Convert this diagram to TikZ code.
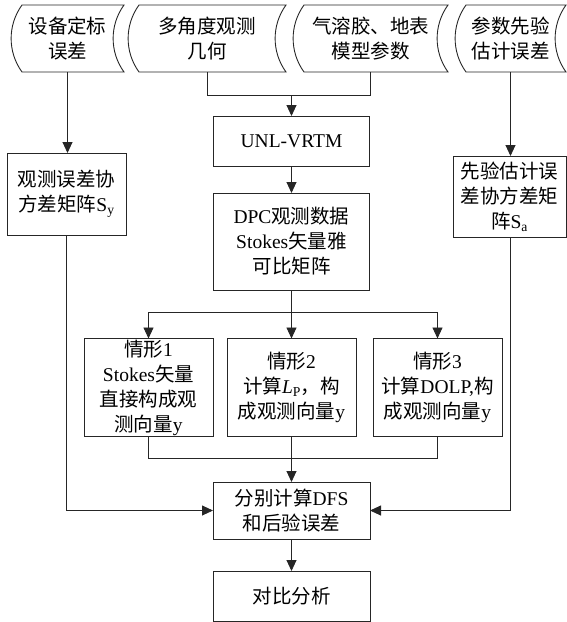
\documentclass[tikz,border=0pt]{standalone}
\usepackage{fontspec}
\setmainfont{Liberation Serif}
\newfontfamily\cjk{Noto Sans CJK SC}
\newcommand\zh[1]{{\cjk #1}}
\usetikzlibrary{arrows.meta}
\begin{document}
\begin{tikzpicture}[x=1pt,y=-1pt,
  font=\fontsize{19.5pt}{25pt}\selectfont,
  ln/.style={line width=0.9pt,draw=black!85},
  arr/.style={ln,-{Triangle[width=10pt,length=11pt]}},
  box/.style={ln,draw,rectangle,align=center,inner sep=0pt,outer sep=0pt},
  datanode/.style={rectangle,align=center,inner sep=0pt,outer sep=0pt,minimum height=67pt}
]
\useasboundingbox (0,0) rectangle (567,622);
\newcommand\datashape[1]{\draw[ln] ([xshift=11pt]#1.north west) -- (#1.north east)
  .. controls ([xshift=-14.5pt,yshift=-20pt]#1.north east) and ([xshift=-14.5pt,yshift=20pt]#1.south east) .. (#1.south east)
  -- ([xshift=11pt]#1.south west)
  .. controls ([xshift=-3.5pt,yshift=20pt]#1.south west) and ([xshift=-3.5pt,yshift=-20pt]#1.north west) .. cycle;}
% top data shapes
\node[datanode,minimum width=113pt] (s1) at (67.5,38.5) {\zh{设备定标}\\\zh{误差}};
\node[datanode,minimum width=158pt] (s2) at (207,38.5) {\zh{多角度观测}\\\zh{几何}};
\node[datanode,minimum width=155pt] (s3) at (370.5,38.5) {\zh{气溶胶、地表}\\\zh{模型参数}};
\node[datanode,minimum width=111pt] (s4) at (510.5,38.5) {\zh{参数先验}\\\zh{估计误差}};
\datashape{s1}\datashape{s2}\datashape{s3}\datashape{s4}
% boxes
\node[box,minimum width=119pt,minimum height=82pt] (sy) at (66.5,194) {\zh{观测误差协}\\\zh{方差矩阵}S\textsubscript{y}};
\node[box,minimum width=156pt,minimum height=50pt] (unl) at (291.5,141) {UNL-VRTM};
\node[box,minimum width=156pt,minimum height=97pt] (dpc) at (291.5,241.5) {DPC\zh{观测数据}\\Stokes\zh{矢量雅}\\\zh{可比矩阵}};
\node[box,minimum width=113pt,minimum height=81pt] (sa) at (509.5,196.5) {\zh{先验估计误}\\\zh{差协方差矩}\\\zh{阵}S\textsubscript{a}};
\node[box,minimum width=129pt,minimum height=98pt] (c1) at (148.5,387.5) {\zh{情形}1\\Stokes\zh{矢量}\\\zh{直接构成观}\\\zh{测向量}y};
\node[box,minimum width=129pt,minimum height=98pt] (c2) at (291.5,387.5) {\zh{情形}2\\\zh{计算}\textit{L}\textsubscript{P}\zh{，构}\\\zh{成观测向量}y};
\node[box,minimum width=129pt,minimum height=98pt] (c3) at (437.5,387.5) {\zh{情形}3\\\zh{计算}DOLP,\zh{构}\\\zh{成观测向量}y};
\node[box,minimum width=157pt,minimum height=57pt] (dfs) at (291.5,510.5) {\zh{分别计算}DFS\\\zh{和后验误差}};
\node[box,minimum width=157pt,minimum height=50pt] (fin) at (291.5,596) {\zh{对比分析}};
% junctions
\coordinate (j1) at (291.5,95);
\coordinate (j2) at (291.5,312);
\coordinate (j3) at (291.5,458);
% connectors
\draw[arr] (s1.south) -- (s1.south |- sy.north);
\draw[ln] (s2.south) |- (j1);
\draw[ln] (s3.south) |- (j1);
\draw[arr] (j1) -- (unl.north);
\draw[arr] (unl.south) -- (dpc.north);
\draw[arr] (s4.south) -- (s4.south |- sa.north);
\draw[ln] (dpc.south) -- (j2);
\draw[arr] (j2) -| (c1.north);
\draw[arr] (j2) -| (c3.north);
\draw[arr] (j2) -- (c2.north);
\draw[ln] (c1.south) |- (j3);
\draw[ln] (c3.south) |- (j3);
\draw[arr] (c2.south) -- (dfs.north);
\draw[arr] (sy.south) |- (dfs.west);
\draw[arr] (s4.south |- sa.south) |- (dfs.east);
\draw[arr] (dfs.south) -- (fin.north);
\end{tikzpicture}
\end{document}
